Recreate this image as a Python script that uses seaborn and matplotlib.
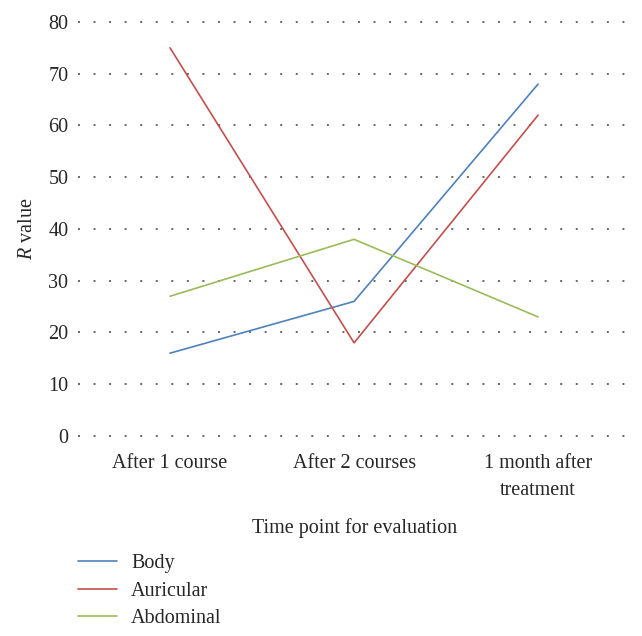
import pandas as pd
import seaborn as sns
import matplotlib
matplotlib.use('Agg')
import matplotlib.pyplot as plt

time_points = ['After 1 course', 'After 2 courses', '1 month after\ntreatment']
body = [16, 26, 68]
auricular = [75, 18, 62]
abdominal = [27, 38, 23]
series_names = ['Body', 'Auricular', 'Abdominal']
colors = ['#4F81BD', '#C0504D', '#9BBB59']

data = pd.DataFrame({
    'time': time_points * 3,
    'value': body + auricular + abdominal,
    'group': [n for n in series_names for _ in time_points],
})

sns.set_style('white')
plt.rcParams['font.family'] = ['Liberation Serif', 'DejaVu Serif']
plt.rcParams['mathtext.fontset'] = 'custom'
plt.rcParams['mathtext.rm'] = 'Liberation Serif'
plt.rcParams['mathtext.it'] = 'Liberation Serif:italic'

fs = 14.5
fig = plt.figure(figsize=(6.42, 6.36), dpi=100)
ax = fig.add_axes([0.1215, 0.3145, 0.86, 0.651])

sns.lineplot(x='time', y='value', hue='group', data=data, palette=colors,
             sort=False, linewidth=1.2, ax=ax, legend=False)

ax.set_ylim(0, 80)
ax.set_xlim(-0.5, 2.5)
ax.set_yticks(range(0, 81, 10))
ax.yaxis.grid(True, linestyle=(0, (1, 7)), color='#666666', linewidth=1.4)
ax.xaxis.grid(False)
for gl in ax.get_ygridlines():
    gl.set_clip_on(False)
for s in ax.spines.values():
    s.set_visible(False)
ax.tick_params(axis='y', length=0, pad=7, labelsize=fs)
ax.tick_params(axis='x', length=0, pad=13, labelsize=fs)
for lab in ax.get_xticklabels():
    lab.set_linespacing(1.55)
ax.set_ylabel(r'$R$ value', fontsize=fs, labelpad=8)
ax.set_xlabel('Time point for evaluation', fontsize=fs, labelpad=13)

handles = [plt.Line2D([], [], color=c, linewidth=1.2) for c in colors]
fig.legend(handles, series_names, loc='upper left', bbox_to_anchor=(0.121, 0.129),
           frameon=False, fontsize=fs, handlelength=1.95, handletextpad=0.7,
           labelspacing=0.42, borderpad=0, borderaxespad=0)

plt.savefig('out.png', dpi=100)
